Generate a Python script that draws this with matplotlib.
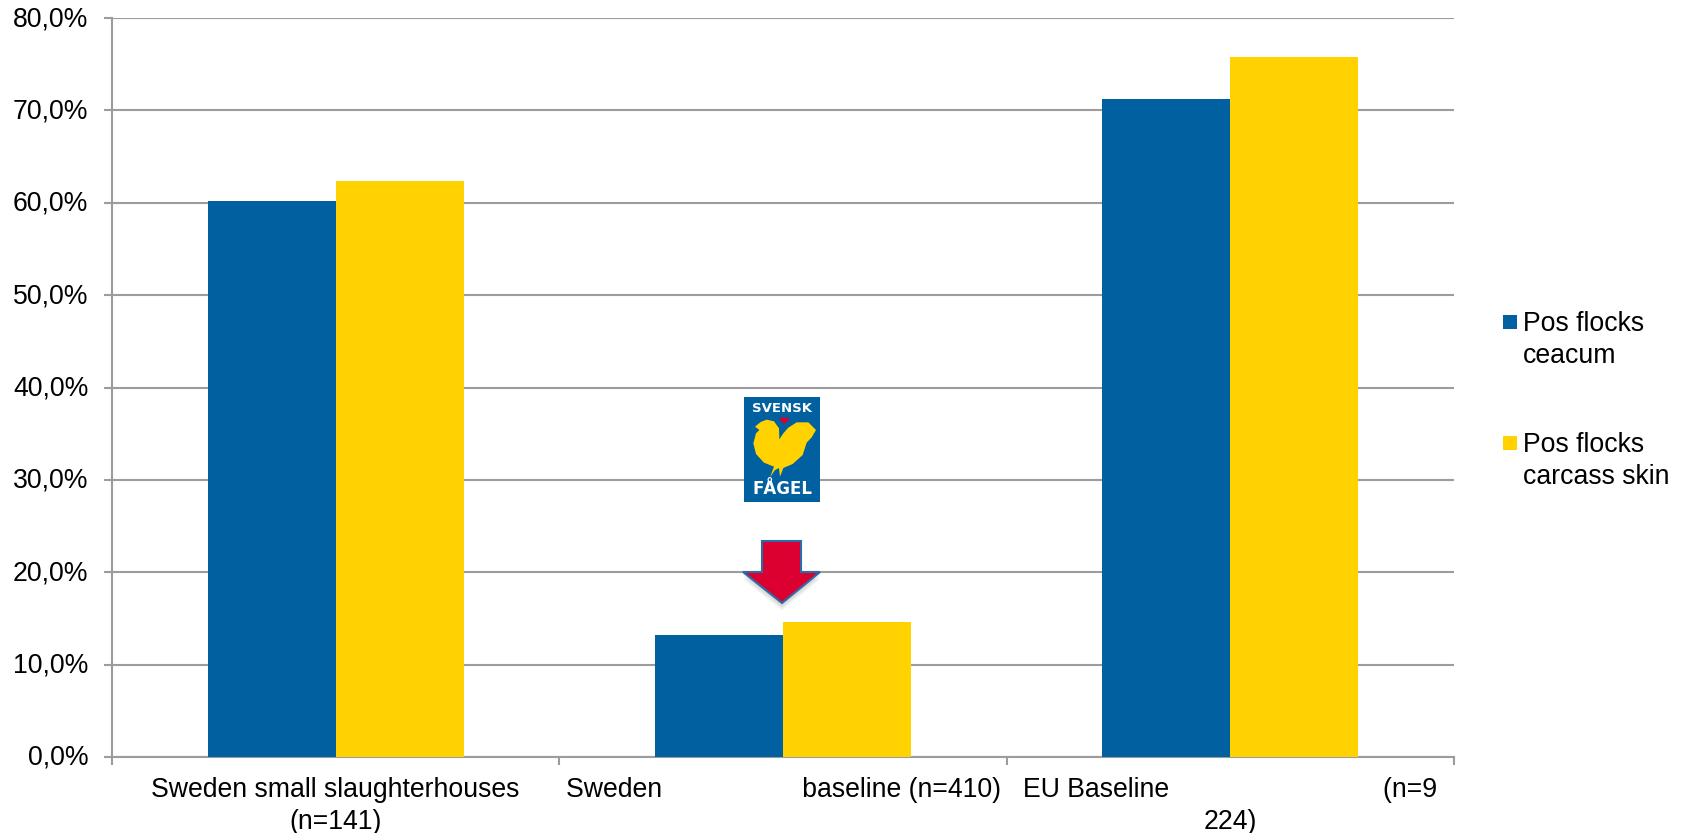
import matplotlib
matplotlib.use('Agg')
import matplotlib.pyplot as plt
import matplotlib.transforms as mtrans
import numpy as np
from matplotlib.patches import Polygon, Rectangle

categories = ['Sweden small slaughterhouses\n(n=141)',
              'Sweden' + ' ' * 19 + 'baseline (n=410)',
              'EU Baseline' + ' ' * 29 + '(n=9\n224)']
caecum = [60.2, 13.2, 71.2]
carcass = [62.4, 14.6, 75.8]
series_names = ['Pos flocks\nceacum', 'Pos flocks\ncarcass skin']
yticks = [0, 10, 20, 30, 40, 50, 60, 70, 80]

plt.rcParams['font.family'] = ['Liberation Sans', 'DejaVu Sans']
W, H = 1684, 833
BLUE = '#0060a0'
YELLOW = '#ffd200'
GREY = '#9c9c9c'
FS = 19.2

fig = plt.figure(figsize=(W / 100, H / 100), dpi=100)
ax = fig.add_axes([112 / W, 1 - 757 / H, (1454 - 112) / W, (757 - 18) / H])

x = np.arange(3)
width = 0.286
ax.bar(x - width / 2, caecum, width, color=BLUE, zorder=3)
ax.bar(x + width / 2, carcass, width, color=YELLOW, zorder=3)

ax.set_xlim(-0.5, 2.5)
ax.set_ylim(0, 80)
ax.set_yticks(yticks)
ax.set_yticklabels(['%d,0%%' % v for v in yticks])
ax.set_xticks([-0.5, 0.5, 1.5, 2.5])
ax.set_xticklabels([])
ax.set_xticks(x, categories, minor=True)
ax.grid(axis='y', color=GREY, lw=1.5, zorder=1)
for s in ['top', 'right']:
    ax.spines[s].set_visible(False)
for s in ['left', 'bottom']:
    ax.spines[s].set_color(GREY)
    ax.spines[s].set_linewidth(1.5)
ax.tick_params(axis='y', labelsize=FS, length=6, width=1.5, color=GREY, pad=11)
ax.tick_params(axis='x', which='major', length=6, width=1.5, color=GREY)
ax.tick_params(axis='x', which='minor', labelsize=FS, length=0, pad=14.5)
for t in ax.get_xticklabels(minor=True):
    t.set_linespacing(1.28)
# y labels sit a little higher than matplotlib centres them
up = mtrans.ScaledTranslation(0, 2 / 100, fig.dpi_scale_trans)
for t in ax.get_yticklabels():
    t.set_transform(t.get_transform() + up)

# logo, arrow and legend are pasted on top of the chart, in pixel coordinates
over = fig.add_axes([0, 0, 1, 1])
over.set_xlim(0, W)
over.set_ylim(H, 0)
over.axis('off')
over.patch.set_alpha(0)

# legend: swatch sits next to the first line of each label
for name, col, y in zip(series_names, [BLUE, YELLOW], [322, 443]):
    over.add_patch(Rectangle((1503, y - 7), 14, 14, color=col, lw=0))
    over.text(1523, y - 11, name, fontsize=FS, linespacing=1.28, va='top', ha='left')

over.add_patch(Rectangle((744, 397), 76, 105, color=BLUE, lw=0))
bird = [(165, 140), (182, 126), (200, 119), (222, 124), (237, 145), (238, 178), (250, 160), (265, 143),
        (290, 127), (325, 127), (348, 150), (335, 172), (320, 188), (308, 225),
        (278, 252), (250, 264), (240, 290), (237, 264), (225, 270), (210, 292),
        (222, 260), (192, 248), (168, 222), (160, 190), (168, 160), (178, 150)]
over.add_patch(Polygon([(700 + a / 3, 380 + b / 3) for a, b in bird], color=YELLOW, lw=0))
heart = [(238, 115), (246, 111), (253, 116), (260, 111), (268, 116), (262, 124), (253, 132), (244, 124)]
over.add_patch(Polygon([(700 + a / 3, 380 + b / 3) for a, b in heart], color='#d8002f', lw=0))
over.text(782, 408, 'SVENSK', color='white', fontsize=9.5, fontweight='bold',
          ha='center', va='center', family='DejaVu Sans')
over.text(782, 489, 'FÅGEL', color='white', fontsize=12, fontweight='bold',
          ha='center', va='center', family='DejaVu Sans')

arrow = np.array([(762, 541), (801, 541), (801, 572), (820, 572), (782, 603), (743, 572), (762, 572)])
for i in range(5, 0, -1):
    over.add_patch(Polygon(arrow + [0, i * 1.5], color='black', alpha=0.04, lw=0))
over.add_patch(Polygon(arrow, facecolor='#dc0030', edgecolor='#2a6ca8', lw=1.5))

fig.savefig('out.png', dpi=100)
